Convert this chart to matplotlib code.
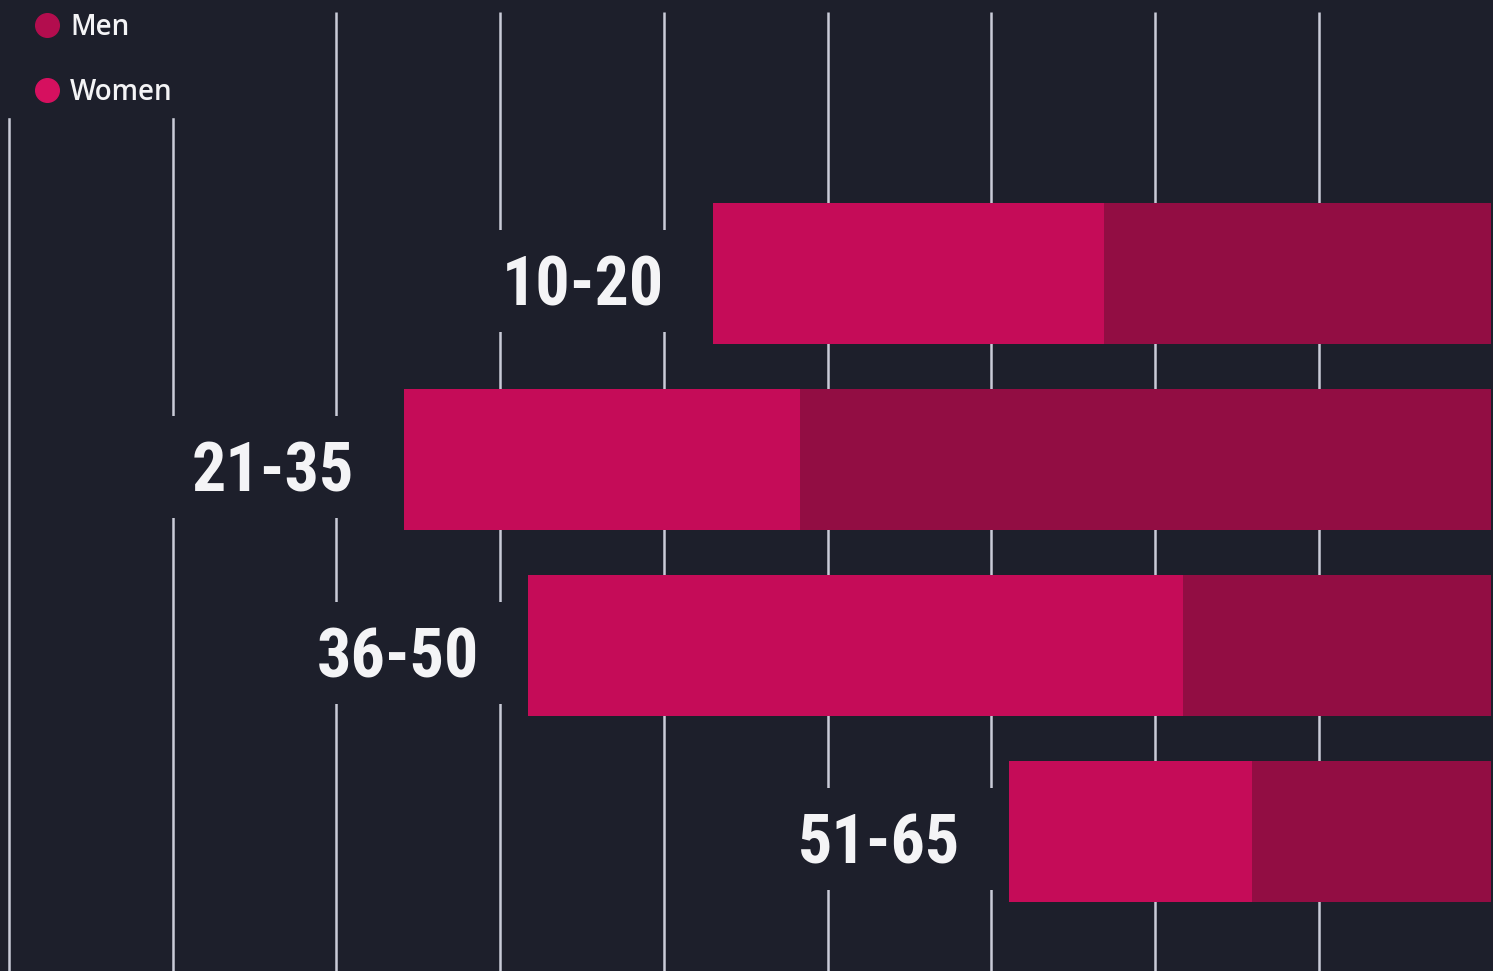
import matplotlib
matplotlib.use("Agg")
import matplotlib.pyplot as plt
import numpy as np
from matplotlib import font_manager as fm
from matplotlib.patches import Rectangle
from matplotlib.lines import Line2D

# ---- data ----
age_groups = ["10-20", "21-35", "36-50", "51-65"]
women = [23.9, 24.2, 40.0, 14.8]
men = [23.6, 42.2, 18.8, 14.6]
grid_ticks = [10, 20, 30, 40, 50, 60, 70, 80, 90]
legend_labels = ["Men", "Women"]

# ---- style ----
BG = "#1d1f2b"
GRID = "#c9cbd8"
WOMEN_C = "#c50c58"
MEN_C = "#920d43"
MEN_DOT = "#b30d4e"
WOMEN_DOT = "#d6105f"
TXT = "#f4f4f6"
W_PX, H_PX = 1493, 971

# pick the narrowest available bold face for the category labels
fonts = fm.fontManager.ttflist
names = {f.name for f in fonts}
label_font = dict(family=["Roboto", "DejaVu Sans"], fontsize=46)
if "Roboto Condensed" in names:
    label_font = dict(family=["Roboto Condensed", "DejaVu Sans"], fontsize=49)
elif "Liberation Sans Narrow" in names:
    label_font = dict(family=["Liberation Sans Narrow", "DejaVu Sans"], fontsize=48)

fig = plt.figure(figsize=(W_PX / 100, H_PX / 100), dpi=100, facecolor=BG)
ax = fig.add_axes([0, 0, 1, 1])
ax.set_facecolor(BG)
ax.set_xlim(9.444, 100.65)
ax.set_ylim(3.75, -1.47)
ax.axis("off")

y = np.arange(len(age_groups))
END = 100.5
men_arr = np.array(men)
women_arr = np.array(women)
men_left = END - men_arr
women_left = men_left - women_arr

# grid lines
ax.vlines(grid_ticks, -1.406, 3.75, colors=GRID, lw=1.8, zorder=1)

# label backdrops (interrupt the grid lines)
BACK_W = 17
ax.barh(y + 0.04, BACK_W, left=women_left - BACK_W, height=0.55,
        color=BG, zorder=2)

# bars
ax.barh(y, women_arr, left=women_left, height=0.758, color=WOMEN_C, zorder=3)
ax.barh(y, men_arr, left=men_left, height=0.758, color=MEN_C, zorder=3)

# category labels
for yi, xl, lab in zip(y, women_left, age_groups):
    ax.text(xl - 3.0, yi + 0.17, lab, ha="right", va="baseline",
            fontweight="bold", color=TXT, zorder=4, **label_font)

# legend backdrop
ax.add_patch(Rectangle((0, 1 - 117 / H_PX), 320 / W_PX, 117 / H_PX,
                       transform=ax.transAxes, color=BG, zorder=2))

# legend
for i, (lab, col) in enumerate(zip(legend_labels, [MEN_DOT, WOMEN_DOT])):
    cy = 25 + i * 65
    fig.add_artist(Line2D([47 / W_PX], [1 - cy / H_PX], marker="o",
                          markersize=17, color=col, linestyle="none",
                          transform=fig.transFigure))
    fig.text(70 / W_PX, 1 - (cy + 10) / H_PX, lab, ha="left", va="baseline",
             fontsize=20, fontweight="semibold",
             family=["Open Sans", "DejaVu Sans"], color=TXT)

fig.savefig("out.png", dpi=100, facecolor=BG)
